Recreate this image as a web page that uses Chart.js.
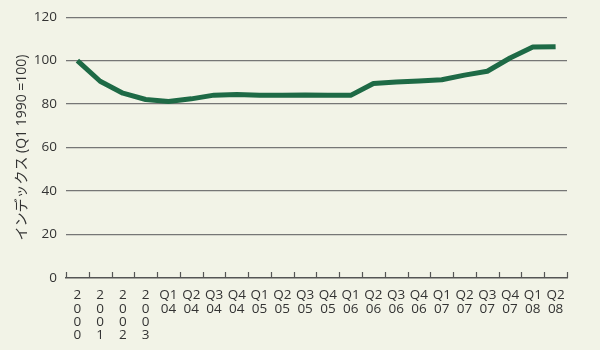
<!DOCTYPE html>
<html>
<head>
<meta charset="utf-8">
<script src="https://cdn.jsdelivr.net/npm/chart.js@4/dist/chart.umd.min.js"></script>
<style>
  html, body { margin: 0; padding: 0; background: #f2f3e7; }
  #wrap { width: 600px; height: 350px; }
</style>
</head>
<body>
<div id="wrap"><canvas id="indexChart"></canvas></div>
<script>
// categories: years then quarters
const periods = [
    ['2','0','0','0'], ['2','0','0','1'], ['2','0','0','2'], ['2','0','0','3'],
    ['Q1','04'], ['Q2','04'], ['Q3','04'], ['Q4','04'],
    ['Q1','05'], ['Q2','05'], ['Q3','05'], ['Q4','05'],
    ['Q1','06'], ['Q2','06'], ['Q3','06'], ['Q4','06'],
    ['Q1','07'], ['Q2','07'], ['Q3','07'], ['Q4','07'],
    ['Q1','08'], ['Q2','08']
];
const indexValues = [100, 90.5, 85, 82.1, 81.2, 82.4, 84.1, 84.4, 84, 84, 84.2, 84,
    84, 89.5, 90.1, 90.6, 91.2, 93.3, 95.1, 101.2, 106.2, 106.4];
const yTicks = [0, 20, 40, 60, 80, 100, 120];

const fontFamily = '"Open Sans", "Noto Sans CJK JP", sans-serif';
const textColor = '#333';

// small tick marks pointing up from the x axis, at category boundaries
const upTicks = {
    id: 'upTicks',
    afterDatasetsDraw(chart) {
        const x = chart.scales.x;
        const ctx = chart.ctx;
        const step = x.getPixelForValue(1) - x.getPixelForValue(0);
        const bottom = chart.chartArea.bottom;
        ctx.save();
        ctx.strokeStyle = '#555';
        ctx.lineWidth = 1.2;
        ctx.beginPath();
        for (let i = 0; i <= periods.length; i++) {
            const px = Math.round(x.getPixelForValue(0) - step / 2 + i * step) + 0.5;
            ctx.moveTo(px, bottom);
            ctx.lineTo(px, bottom - 6);
        }
        ctx.stroke();
        ctx.restore();
    }
};

const ctx = document.getElementById('indexChart').getContext('2d');
const indexChart = new Chart(ctx, {
    type: 'line',
    data: {
        labels: periods,
        datasets: [{
            data: indexValues,
            borderColor: '#1e6a46',
            borderWidth: 5,
            pointRadius: 0,
            tension: 0,
            borderJoinStyle: 'round',
            fill: false
        }]
    },
    options: {
        responsive: true,
        maintainAspectRatio: false,
        animation: false,
        layout: { padding: { left: 0, right: 33, top: 14, bottom: 0 } },
        plugins: { legend: { display: false }, tooltip: { enabled: false } },
        scales: {
            x: {
                offset: true,
                grid: { display: false },
                border: { display: true, color: '#555', width: 1.5 },
                ticks: {
                    color: textColor,
                    padding: 3,
                    maxRotation: 0,
                    autoSkip: false,
                    font: { family: fontFamily, size: 13.5, lineHeight: 0.98 }
                },
                afterFit(scale) { scale.height = 72; }
            },
            y: {
                min: 0,
                max: 120,
                afterBuildTicks(scale) { scale.ticks = yTicks.map(v => ({ value: v })); },
                grid: {
                    color: ctx => ctx.tick.value === 0 ? 'rgba(0,0,0,0)' : '#767676',
                    lineWidth: 1.2,
                    drawTicks: false
                },
                border: { display: false },
                ticks: {
                    color: textColor,
                    padding: 9,
                    font: { family: fontFamily, size: 13.5 }
                },
                title: {
                    display: true,
                    text: 'インデックス (Q1 1990 =100)',
                    color: textColor,
                    padding: { top: 14, bottom: 0 },
                    font: { family: fontFamily, size: 14 }
                },
                afterFit(scale) { scale.width = 66; }
            }
        }
    },
    plugins: [upTicks]
});
</script>
</body>
</html>
